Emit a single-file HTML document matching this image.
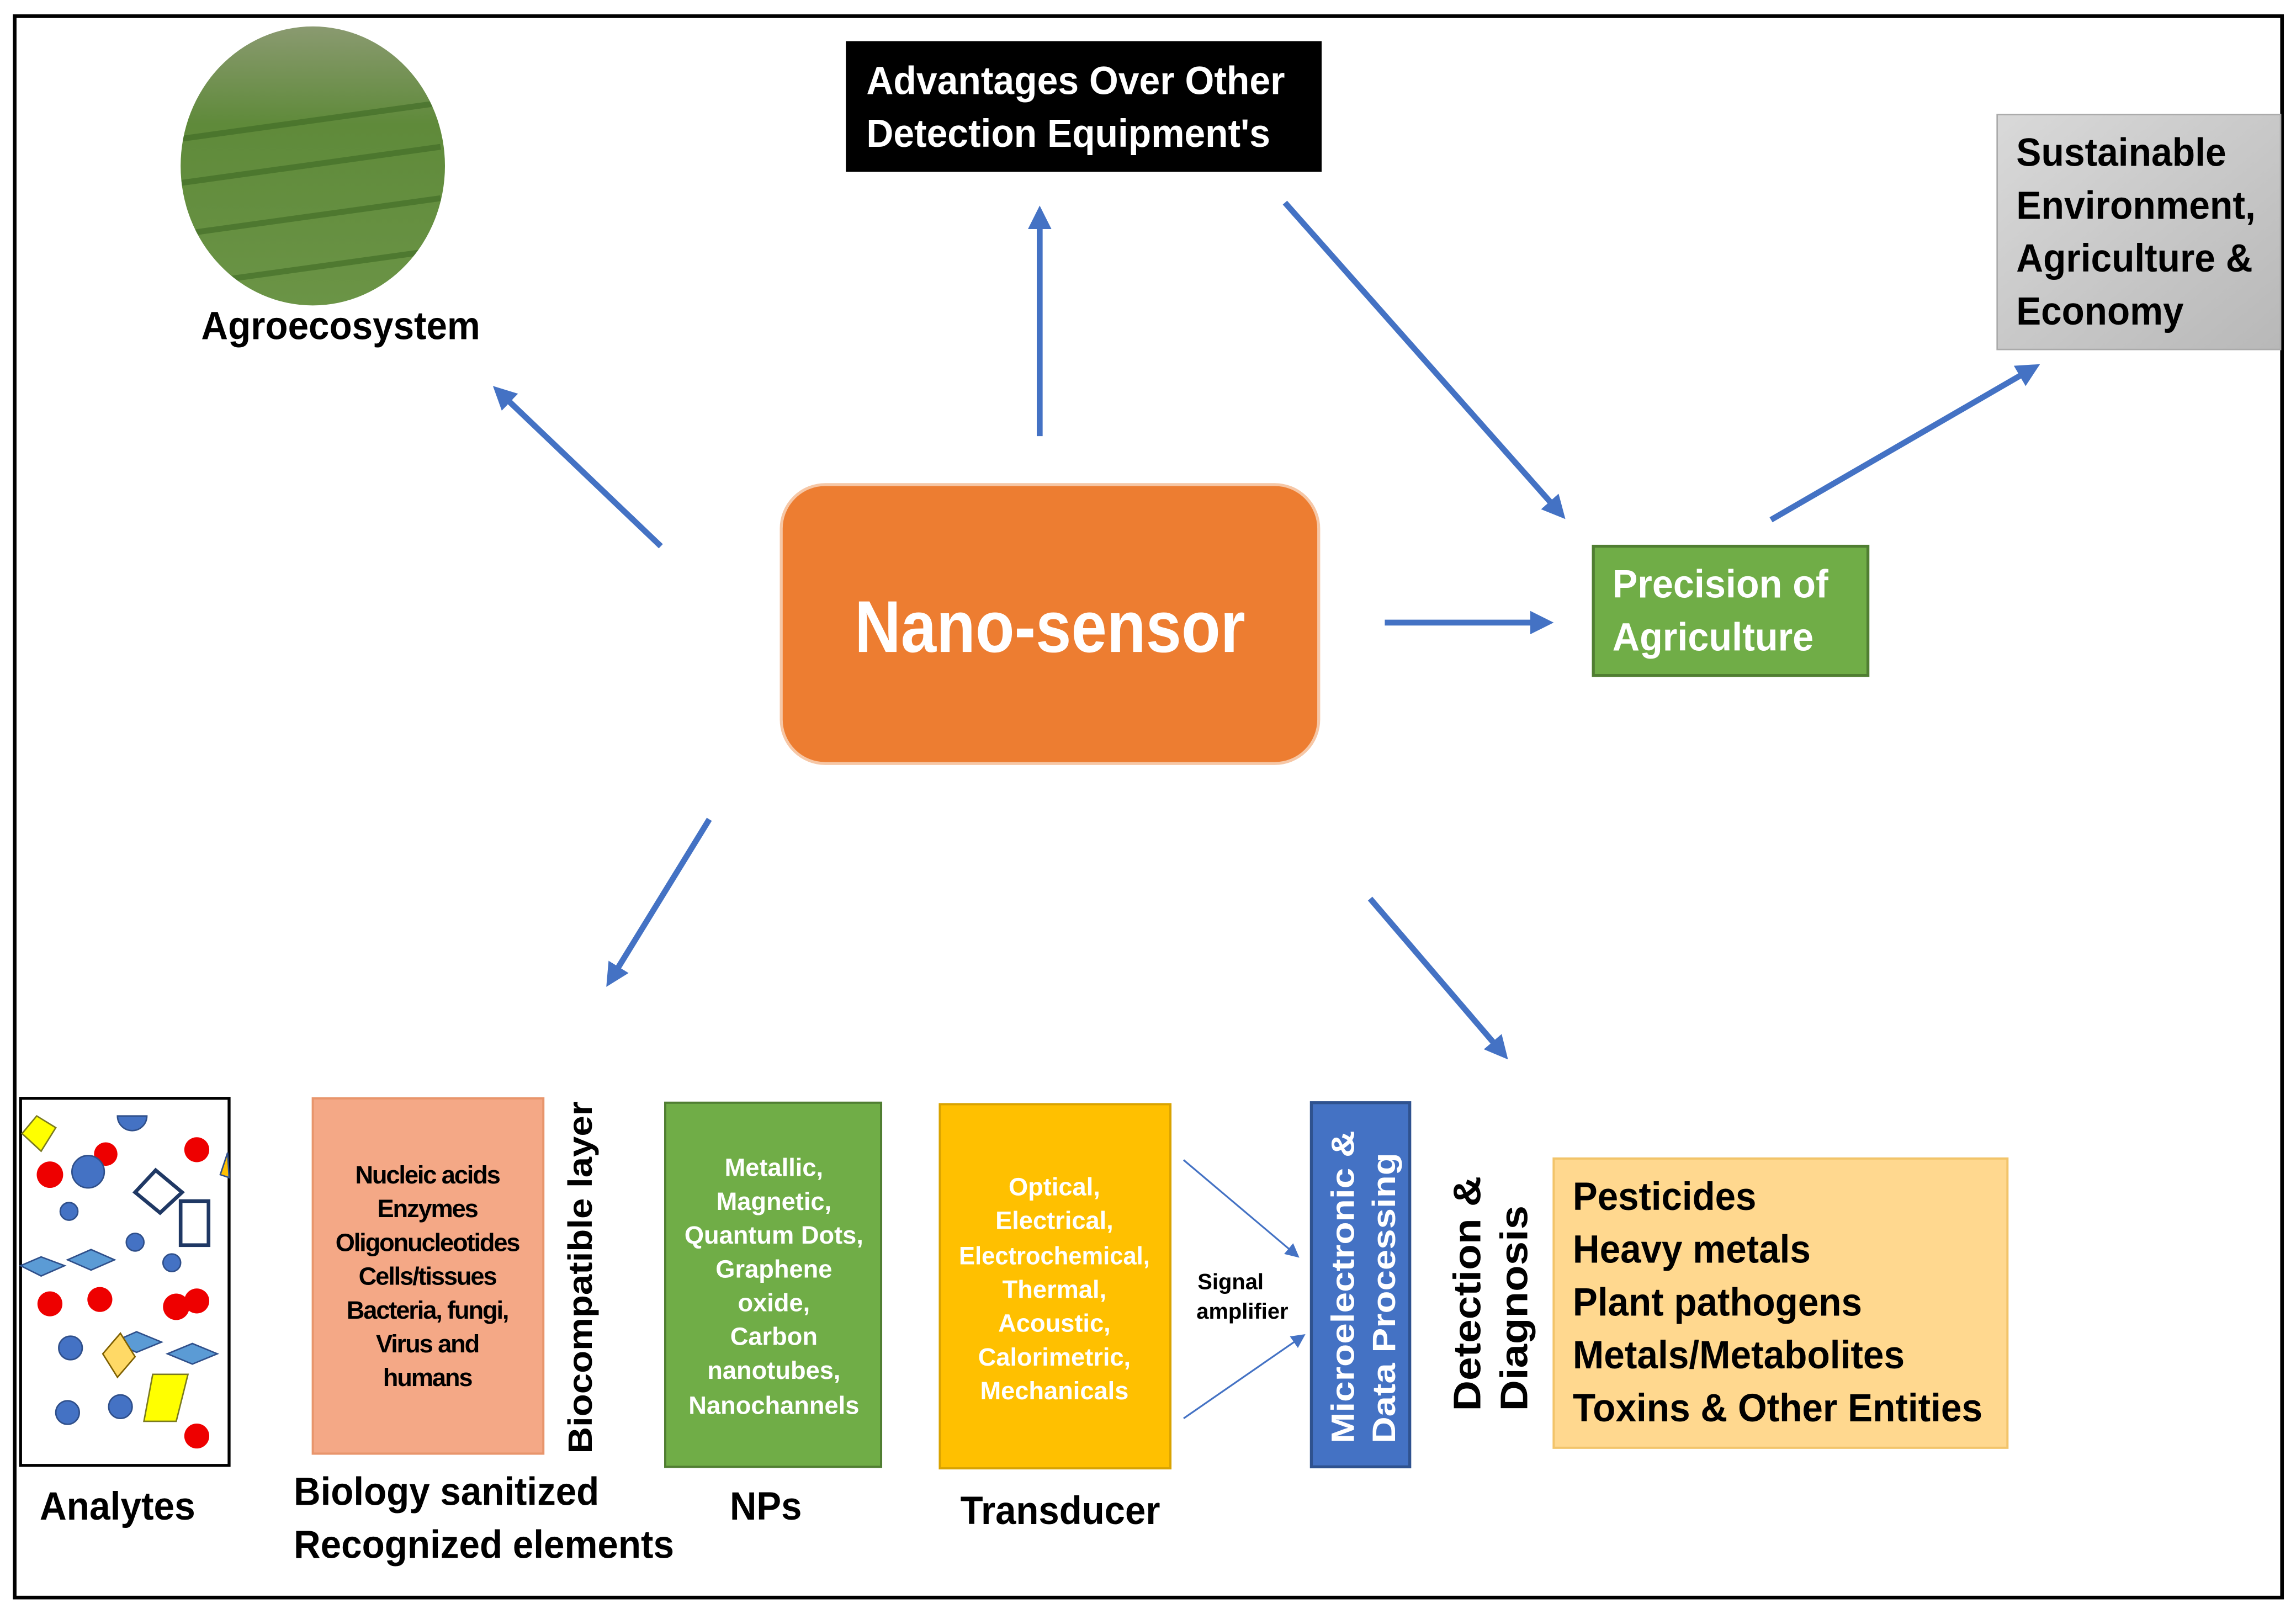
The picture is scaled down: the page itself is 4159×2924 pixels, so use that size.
<!DOCTYPE html>
<html><head><meta charset="utf-8"><style>html,body{margin:0;padding:0;background:#fff}svg{display:block}</style></head>
<body>
<svg width="4159" height="2924" viewBox="0 0 1563.5 1099.2" xmlns="http://www.w3.org/2000/svg" font-family="'Liberation Sans', sans-serif">
<defs>
<marker id="ah" markerWidth="4" markerHeight="4" refX="2.5" refY="2" orient="auto" markerUnits="strokeWidth"><path d="M0,0 L4,2 L0,4 z" fill="#4472C4"/></marker>
<marker id="ah2" markerWidth="8" markerHeight="8" refX="6" refY="4" orient="auto" markerUnits="strokeWidth"><path d="M0,0 L8,4 L0,8 z" fill="#4472C4"/></marker>
<linearGradient id="gg" x1="0" y1="0" x2="1" y2="1"><stop offset="0" stop-color="#d9d9d9"/><stop offset="1" stop-color="#b8b8b8"/></linearGradient>
<linearGradient id="fg" x1="0" y1="0" x2="0" y2="1"><stop offset="0" stop-color="#8a9a70"/><stop offset="0.35" stop-color="#5f8a3a"/><stop offset="1" stop-color="#6b9446"/></linearGradient>
<clipPath id="ec"><ellipse cx="213" cy="113" rx="90" ry="95"/></clipPath>
</defs>
<rect x="10" y="11" width="1544" height="1077" fill="#fff" stroke="#000" stroke-width="2.5"/>

<ellipse cx="213" cy="113" rx="90" ry="95" fill="url(#fg)"/>
<g clip-path="url(#ec)" stroke="#3f6a25" stroke-width="4" opacity="0.6">
<line x1="120" y1="95" x2="300" y2="70"/><line x1="120" y1="125" x2="300" y2="100"/><line x1="120" y1="160" x2="300" y2="135"/><line x1="120" y1="195" x2="300" y2="170"/>
</g>
<g font-weight="bold" font-size="27">
<text x="137" y="231" textLength="190" lengthAdjust="spacingAndGlyphs">Agroecosystem</text>
</g>

<rect x="576" y="28" width="324" height="89" fill="#000"/>
<g font-size="27" font-weight="bold" fill="#fff">
<text x="590" y="64" textLength="285" lengthAdjust="spacingAndGlyphs">Advantages Over Other</text>
<text x="590" y="100" textLength="275" lengthAdjust="spacingAndGlyphs">Detection Equipment's</text>
</g>

<rect x="1360" y="78" width="193" height="160" fill="url(#gg)" stroke="#aaa"/>
<g font-size="27" font-weight="bold">
<text x="1373" y="113" textLength="143" lengthAdjust="spacingAndGlyphs">Sustainable</text>
<text x="1373" y="149" textLength="163" lengthAdjust="spacingAndGlyphs">Environment,</text>
<text x="1373" y="185" textLength="161" lengthAdjust="spacingAndGlyphs">Agriculture &amp;</text>
<text x="1373" y="221" textLength="114" lengthAdjust="spacingAndGlyphs">Economy</text></g>

<rect x="532" y="330" width="366" height="190" rx="30" fill="#ED7D31" stroke="#f6c7a6" stroke-width="2"/>
<text x="582" y="444" font-size="50" font-weight="bold" fill="#fff" textLength="266" lengthAdjust="spacingAndGlyphs">Nano-sensor</text>

<rect x="1085" y="372" width="187" height="88" fill="#70AD47" stroke="#507E32" stroke-width="2"/>
<text x="1098" y="407" font-size="27" font-weight="bold" fill="#fff" textLength="147" lengthAdjust="spacingAndGlyphs">Precision of</text>
<text x="1098" y="443" font-size="27" font-weight="bold" fill="#fff" textLength="137" lengthAdjust="spacingAndGlyphs">Agriculture</text>

<g stroke="#4472C4" stroke-width="4" marker-end="url(#ah)">
<line x1="450" y1="372" x2="340" y2="267"/>
<line x1="708" y1="297" x2="708" y2="146"/>
<line x1="875" y1="138" x2="1062" y2="349"/>
<line x1="1206" y1="354" x2="1384" y2="251"/>
<line x1="943" y1="424" x2="1052" y2="424"/>
<line x1="483" y1="558" x2="416" y2="667"/>
<line x1="933" y1="612" x2="1023" y2="717"/>
</g>

<!-- analytes -->
<rect x="14" y="748" width="142" height="250" fill="#fff" stroke="#000" stroke-width="2"/>
<g stroke="#2f4f8a" stroke-width="1">
<polygon points="15,772 25,760 38,768 28,784" fill="#ffff00" stroke="#7a7a20"/>
<path d="M80,760 A10,10 0 0 0 100,760 z" fill="#4472C4"/>
<circle cx="72" cy="786" r="8" fill="#ee0000" stroke="none"/>
<circle cx="34" cy="800" r="9" fill="#ee0000" stroke="none"/>
<circle cx="60" cy="798" r="11" fill="#4472C4"/>
<circle cx="134" cy="783" r="8.5" fill="#ee0000" stroke="none"/>
<polygon points="155,785 150,800 156,802" fill="#ffc000"/>
<polygon points="92,812 106,797 124,812 109,826" fill="none" stroke="#1f3864" stroke-width="2.5"/>
<rect x="123" y="818" width="19" height="30" fill="none" stroke="#1f3864" stroke-width="2.5"/>
<circle cx="47" cy="825" r="6" fill="#4472C4"/>
<circle cx="92" cy="846" r="6" fill="#4472C4"/>
<circle cx="117" cy="860" r="6" fill="#4472C4"/>
<polygon points="14,862 28,856 44,862 28,869" fill="#5b9bd5"/>
<polygon points="46,858 62,851 78,858 62,865" fill="#5b9bd5"/>
<polygon points="77,914 93,907 110,914 93,921" fill="#5b9bd5"/>
<polygon points="114,922 131,915 148,922 131,929" fill="#5b9bd5"/>
<circle cx="34" cy="888" r="8.5" fill="#ee0000" stroke="none"/>
<circle cx="68" cy="885" r="8.5" fill="#ee0000" stroke="none"/>
<circle cx="120" cy="890" r="9" fill="#ee0000" stroke="none"/>
<circle cx="134" cy="886" r="8.5" fill="#ee0000" stroke="none"/>
<circle cx="48" cy="918" r="8" fill="#4472C4"/>
<circle cx="82" cy="958" r="8" fill="#4472C4"/>
<circle cx="46" cy="962" r="8" fill="#4472C4"/>
<polygon points="70,922 82,908 92,924 80,938" fill="#ffd966" stroke="#7f6000"/>
<polygon points="104,936 128,936 120,968 98,968" fill="#ffff00" stroke="#7a7a20"/>
<circle cx="134" cy="978" r="8.5" fill="#ee0000" stroke="none"/>
</g>
<text x="27" y="1035" font-size="27" font-weight="bold" textLength="106" lengthAdjust="spacingAndGlyphs">Analytes</text>

<rect x="213" y="748" width="157" height="242" fill="#F4A886" stroke="#E8956C" stroke-width="1.5"/>
<g font-size="17" font-weight="bold" text-anchor="middle" letter-spacing="-0.8">
<text x="291" y="806">Nucleic acids</text><text x="291" y="829">Enzymes</text><text x="291" y="852">Oligonucleotides</text><text x="291" y="875">Cells/tissues</text><text x="291" y="898">Bacteria, fungi,</text><text x="291" y="921">Virus and</text><text x="291" y="944">humans</text>
</g>
<text transform="translate(403,990) rotate(-90)" font-size="23" font-weight="bold" textLength="240" lengthAdjust="spacingAndGlyphs">Biocompatible layer</text>
<text x="200" y="1025" font-size="27" font-weight="bold" textLength="208" lengthAdjust="spacingAndGlyphs">Biology sanitized</text>
<text x="200" y="1061" font-size="27" font-weight="bold" textLength="259" lengthAdjust="spacingAndGlyphs">Recognized elements</text>

<rect x="453" y="751" width="147" height="248" fill="#70AD47" stroke="#507E32" stroke-width="1.5"/>
<g font-size="17" font-weight="bold" fill="#fff" text-anchor="middle">
<text x="527" y="801">Metallic,</text><text x="527" y="824">Magnetic,</text><text x="527" y="847">Quantum Dots,</text><text x="527" y="870">Graphene</text><text x="527" y="893">oxide,</text><text x="527" y="916">Carbon</text><text x="527" y="939">nanotubes,</text><text x="527" y="963">Nanochannels</text>
</g>
<text x="497" y="1035" font-size="27" font-weight="bold" textLength="49" lengthAdjust="spacingAndGlyphs">NPs</text>

<rect x="640" y="752" width="157" height="248" fill="#FFC000" stroke="#D9A300" stroke-width="1.5"/>
<g font-size="17" font-weight="bold" fill="#fff" text-anchor="middle">
<text x="718" y="814">Optical,</text><text x="718" y="837">Electrical,</text><text x="718" y="861" textLength="130" lengthAdjust="spacingAndGlyphs">Electrochemical,</text><text x="718" y="884">Thermal,</text><text x="718" y="907">Acoustic,</text><text x="718" y="930">Calorimetric,</text><text x="718" y="953">Mechanicals</text>
</g>
<text x="654" y="1038" font-size="27" font-weight="bold" textLength="136" lengthAdjust="spacingAndGlyphs">Transducer</text>

<g stroke="#4472C4" stroke-width="1.2" marker-end="url(#ah2)">
<line x1="806" y1="790" x2="883" y2="855"/>
<line x1="806" y1="966" x2="887" y2="910"/>
</g>
<text x="838" y="878" font-size="15" font-weight="bold" text-anchor="middle">Signal</text>
<text x="846" y="898" font-size="15" font-weight="bold" text-anchor="middle">amplifier</text>

<rect x="893" y="751" width="67" height="248" fill="#4472C4" stroke="#2F528F" stroke-width="2"/>
<text transform="translate(922,983) rotate(-90)" font-size="22" font-weight="bold" fill="#fff" textLength="213" lengthAdjust="spacingAndGlyphs">Microelectronic &amp;</text>
<text transform="translate(950,983) rotate(-90)" font-size="22" font-weight="bold" fill="#fff" textLength="198" lengthAdjust="spacingAndGlyphs">Data Processing</text>

<text transform="translate(1008,961) rotate(-90)" font-size="26" font-weight="bold" textLength="160" lengthAdjust="spacingAndGlyphs">Detection &amp;</text>
<text transform="translate(1040,961) rotate(-90)" font-size="26" font-weight="bold" textLength="140" lengthAdjust="spacingAndGlyphs">Diagnosis</text>

<rect x="1058" y="789" width="309" height="197" fill="#FFD88F" stroke="#F2C46A" stroke-width="1.5"/>
<g font-size="27" font-weight="bold">
<text x="1071" y="824" textLength="125" lengthAdjust="spacingAndGlyphs">Pesticides</text>
<text x="1071" y="860" textLength="162" lengthAdjust="spacingAndGlyphs">Heavy metals</text>
<text x="1071" y="896" textLength="197" lengthAdjust="spacingAndGlyphs">Plant pathogens</text>
<text x="1071" y="932" textLength="226" lengthAdjust="spacingAndGlyphs">Metals/Metabolites</text>
<text x="1071" y="968" textLength="279" lengthAdjust="spacingAndGlyphs">Toxins &amp; Other Entities</text>
</g>
</svg>
</body></html>
